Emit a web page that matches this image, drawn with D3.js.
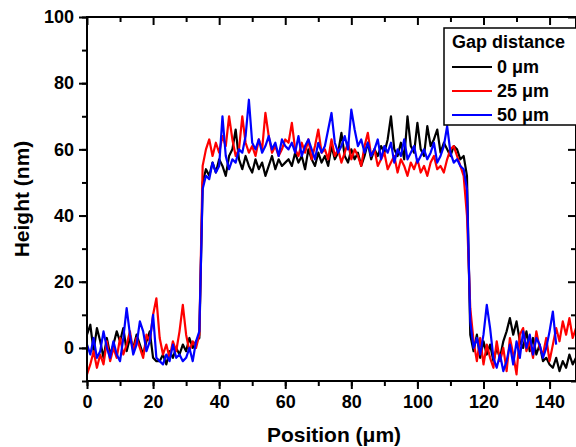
<!DOCTYPE html>
<html>
<head>
<meta charset="utf-8">
<script src="https://cdn.jsdelivr.net/npm/d3@7"></script>
<style>
  body { margin: 0; background: #fff; }
  svg { display: block; font-family: "Liberation Sans", Arial, sans-serif; font-weight: bold; }
</style>
</head>
<body>
<div id="chart"></div>
<script>
// height profiles (nm), one sample per micron starting at 0
var black0 = [4,7,-1,6,2,-3,3,-2,1,5,2,6,-1,3,0,4,1,-2,2,5,-3,-4,-4,-2,-5,-1,-3,0,-2,1,-1,3,0,2,3,
  50,54,52,56,53,57,55,52,58,60,66,57,54,58,55,53,57,54,56,52,55,58,54,57,55,56,
  57,55,59,56,58,54,60,57,55,59,56,58,55,61,57,59,65,58,56,60,57,59,55,58,62,57,60,58,61,59,63,70,60,58,62,57,70,61,59,68,60,58,67,61,63,66,59,62,60,58,61,60,57,58,
  52,
  4,-1,4,-3,2,-2,1,-4,0,-3,2,5,9,4,8,2,0,5,-1,3,-2,1,-4,-3,-5,-6,-3,-7,-4,-6,-2,-5,-3]
var red25 = [-8,-5,-1,-6,-2,-5,2,-4,0,-3,3,-2,1,5,-1,3,0,-3,4,2,10,15,3,-2,1,-3,2,-1,5,13,4,-1,2,0,4,
  55,60,63,58,62,59,64,61,70,63,58,60,70,62,59,61,58,63,60,71,64,59,61,58,60,63,
  62,68,60,58,62,59,63,57,61,66,59,60,57,63,58,60,56,59,62,57,60,58,55,61,65,58,60,55,57,59,54,56,58,53,57,55,52,56,54,57,53,55,52,56,58,54,55,53,57,60,61,58,55,52,
  40,
  12,2,-4,3,-5,1,-3,-6,2,-4,0,-7,3,-2,-8,4,6,-1,2,-3,5,0,-2,3,-4,1,6,2,8,4,9,3,6]
var blue50 = [1,-2,3,-3,-1,5,0,-3,2,-2,-4,3,12,4,-2,1,8,5,-1,2,10,-3,-4,-5,-2,-4,1,-3,-2,-4,-3,0,-4,2,5,
  48,52,51,56,53,55,70,58,54,57,56,60,59,64,75,62,60,63,59,61,64,60,62,58,63,61,
  60,62,59,64,58,61,63,60,57,62,59,61,66,71,62,59,61,64,60,72,66,61,63,59,62,58,60,63,57,61,59,62,56,60,58,63,57,59,61,56,58,60,57,59,62,56,58,61,67,59,56,57,55,54,
  48,
  8,0,3,-2,4,13,6,-3,-6,-2,-7,-4,1,-5,2,-3,5,0,4,-2,3,1,-3,0,5,11,1]

var seriesNames = ["0 \u03bcm", "25 \u03bcm", "50 \u03bcm"]
var seriesColors = ["#000000", "#ff0000", "#0000ff"]
var xTicks = [0, 20, 40, 60, 80, 100, 120, 140]
var yTicks = [0, 20, 40, 60, 80, 100]

var W = 576, H = 447
var margin = {left: 87, top: 17, right: 0, bottom: 66}
var pw = W - margin.left - margin.right
var ph = H - margin.top - margin.bottom

var svg = d3.select('#chart').append('svg').attr('width', W).attr('height', H)

var x = d3.scaleLinear().domain([0, 148]).range([margin.left, margin.left + pw])
var y = d3.scaleLinear().domain([-10, 100]).range([margin.top + ph, margin.top])

svg.append('clipPath').attr('id', 'plotclip')
  .append('rect').attr('x', margin.left).attr('y', margin.top).attr('width', pw).attr('height', ph)

var series = [black0, red25, blue50].map(function(vals, i){
  return {name: seriesNames[i], color: seriesColors[i],
    pts: vals.map(function(v, j){ return {x: j, y: v} })}
})

var line = d3.line().x(function(d){ return x(d.x) }).y(function(d){ return y(d.y) })

svg.append('g').attr('clip-path', 'url(#plotclip)')
  .selectAll('path').data(series).enter().append('path')
  .attr('d', function(d){ return line(d.pts) })
  .attr('fill', 'none')
  .attr('stroke', function(d){ return d.color })
  .attr('stroke-width', 2.2)
  .attr('stroke-linejoin', 'round')

// axes: outward ticks left/bottom, inward mirror ticks top/right
var xMinor = d3.range(0, 149, 10)
var yMinor = d3.range(-10, 101, 10)

function axisStyle(g){
  g.select('.domain').remove()
  g.selectAll('line').attr('stroke', '#000').attr('stroke-width', 2)
}

var gx = svg.append('g').attr('transform', 'translate(0,' + (margin.top + ph) + ')')
  .call(d3.axisBottom(x).tickValues(xMinor).tickSize(5).tickFormat(''))
axisStyle(gx)
var gx2 = svg.append('g').attr('transform', 'translate(0,' + (margin.top + ph) + ')')
  .call(d3.axisBottom(x).tickValues(xTicks).tickSize(8).tickPadding(6))
axisStyle(gx2)
gx2.selectAll('text').attr('font-size', 18).attr('font-family', '"Liberation Sans", Arial').attr('font-weight', 'bold').attr('fill', '#000')

var gt = svg.append('g').attr('transform', 'translate(0,' + margin.top + ')')
  .call(d3.axisBottom(x).tickValues(xMinor).tickSize(5).tickFormat(''))
axisStyle(gt)
gt.selectAll('line').attr('y2', function(d){ return xTicks.indexOf(d) >= 0 ? 8 : 5 })

var gy = svg.append('g').attr('transform', 'translate(' + margin.left + ',0)')
  .call(d3.axisLeft(y).tickValues(yMinor).tickSize(5).tickFormat(''))
axisStyle(gy)
var gy2 = svg.append('g').attr('transform', 'translate(' + margin.left + ',0)')
  .call(d3.axisLeft(y).tickValues(yTicks).tickSize(8).tickPadding(5))
axisStyle(gy2)
gy2.selectAll('text').attr('font-size', 18).attr('font-family', '"Liberation Sans", Arial').attr('font-weight', 'bold').attr('fill', '#000')

var gr = svg.append('g').attr('transform', 'translate(' + (margin.left + pw) + ',0)')
  .call(d3.axisLeft(y).tickValues(yMinor).tickSize(5).tickFormat(''))
axisStyle(gr)
gr.selectAll('line').attr('x2', function(d){ return yTicks.indexOf(d) >= 0 ? -8 : -5 })

// frame
svg.append('rect').attr('x', margin.left).attr('y', margin.top).attr('width', pw).attr('height', ph)
  .attr('fill', 'none').attr('stroke', '#000').attr('stroke-width', 2)

// axis titles
svg.append('text').attr('x', 334).attr('y', 442).attr('text-anchor', 'middle')
  .attr('font-size', 21).text('Position (\u03bcm)')
svg.append('text').attr('transform', 'translate(29,' + (margin.top + ph / 2) + ') rotate(-90)')
  .attr('text-anchor', 'middle').attr('font-size', 21).text('Height (nm)')

// legend
var lg = svg.append('g')
lg.append('rect').attr('x', 444).attr('y', 28).attr('width', 140).attr('height', 97)
  .attr('fill', '#fff').attr('stroke', '#000').attr('stroke-width', 1.5)
lg.append('text').attr('x', 452).attr('y', 48).attr('font-size', 18).text('Gap distance')
var items = lg.selectAll('g.item').data(series).enter().append('g').attr('class', 'item')
items.append('line')
  .attr('x1', 452).attr('x2', 492)
  .attr('y1', function(d, i){ return 67 + i * 24 }).attr('y2', function(d, i){ return 67 + i * 24 })
  .attr('stroke', function(d){ return d.color }).attr('stroke-width', 2)
items.append('text').attr('x', 497)
  .attr('y', function(d, i){ return 73 + i * 24 })
  .attr('font-size', 18).text(function(d){ return d.name })
</script>
</body>
</html>
